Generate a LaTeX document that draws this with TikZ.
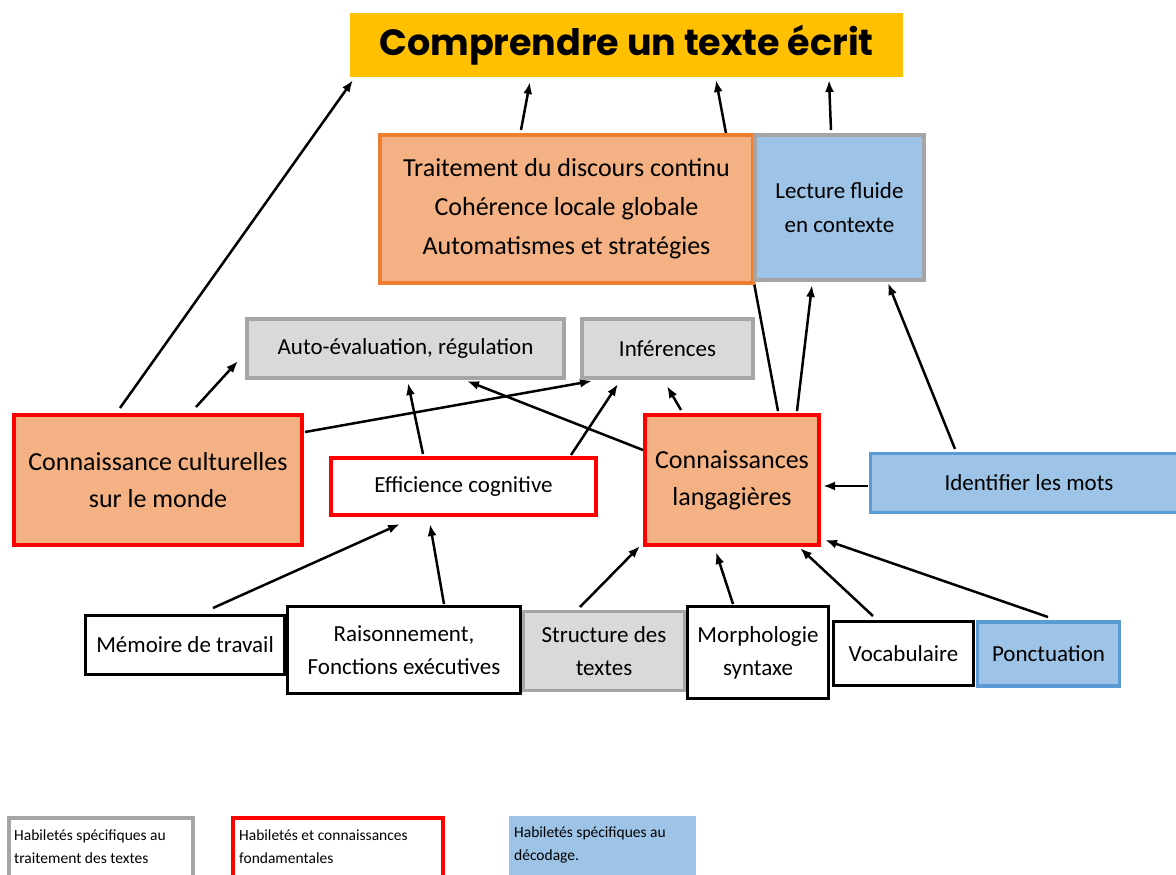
\documentclass[tikz,border=0pt]{standalone}
\usepackage{fontspec}
\setmainfont{Carlito}
\newfontfamily\titlefont{Poppins}
\usetikzlibrary{calc,arrows.meta,backgrounds}
\definecolor{ttlfill}{HTML}{FFC000}
\definecolor{peach}{HTML}{F4B183}
\definecolor{orangeb}{HTML}{ED7D31}
\definecolor{bluefill}{HTML}{9DC3E6}
\definecolor{blueb}{HTML}{5B9BD5}
\definecolor{greyfill}{HTML}{D9D9D9}
\definecolor{greyb}{HTML}{A5A5A5}
\definecolor{redb}{HTML}{FF0000}
\newcommand\fsBig{\fontsize{26}{37}\selectfont}
\newcommand\fsMid{\fontsize{23}{33}\selectfont}
\newcommand\fsLeg{\fontsize{15.5}{23}\selectfont}
\tikzset{
  box/.style={rectangle, inner sep=0pt, align=center, line width=3.5pt, text=black},
  greybox/.style={box, draw=greyb, fill=greyfill, font=\fsMid},
  redbox/.style={box, draw=redb, line width=4pt},
  bluebox/.style={box, draw=blueb, fill=bluefill, font=\fsMid},
  blackbox/.style={box, draw=black, fill=white, font=\fsMid},
  legtext/.style={anchor=west, align=left, inner sep=0pt, font=\fsLeg},
  arr/.style={-{Latex[length=12pt,width=9pt]}, line width=2.5pt}
}
\begin{document}
\begin{tikzpicture}[x=1pt,y=-1pt]
\useasboundingbox (0,0) rectangle (1176,875);
\clip (0,0) rectangle (1176,875);

% title
\node[box, fill=ttlfill, minimum width=553pt, minimum height=64pt, font=\titlefont\bfseries\fontsize{36.5}{40}\selectfont] (title) at (626.5,45) {Comprendre un texte écrit};

% second level
\node[box, draw=orangeb, fill=peach, minimum width=373pt, minimum height=148pt, font=\fontsize{26}{39}\selectfont] (trait) at (566.5,209) {Traitement du discours continu\\Cohérence locale globale\\Automatismes et stratégies};
\node[box, draw=greyb, fill=bluefill, minimum width=169pt, minimum height=145pt, font=\fontsize{23}{34}\selectfont] (lect) at (839.5,207.5) {Lecture fluide\\en contexte};

% third level
\node[greybox, minimum width=317pt, minimum height=59pt] (auto) at (405.5,348.5) {Auto-évaluation, régulation};
\node[greybox, minimum width=171pt, minimum height=59pt] (inf) at (667.5,348.5) {Inférences};

% middle
\node[redbox, fill=peach, minimum width=288pt, minimum height=130pt, font=\fsBig] (cc) at (158,480) {Connaissance culturelles\\sur le monde};
\node[redbox, fill=white, minimum width=265pt, minimum height=57pt, font=\fsMid] (eff) at (463.5,486.5) {Efficience cognitive};
\node[redbox, fill=peach, minimum width=174pt, minimum height=130pt, font=\fsBig] (cl) at (732,480) {Connaissances\\langagières};
\node[bluebox, minimum width=317pt, minimum height=59pt] (idm) at (1029,483) {Identifier les mots};

% bottom row
\node[blackbox, minimum width=199pt, minimum height=59pt] (mem) at (185,645) {Mémoire de travail};
\node[blackbox, minimum width=233pt, minimum height=87pt] (rais) at (404,650) {Raisonnement,\\Fonctions exécutives};
\node[greybox, minimum width=161pt, minimum height=79pt] (str) at (604,651) {Structure des\\textes};
\node[blackbox, minimum width=141pt, minimum height=92pt] (morph) at (758,652.5) {Morphologie\\syntaxe};
\node[blackbox, minimum width=140pt, minimum height=64pt] (voc) at (903.5,653.5) {Vocabulaire};
\node[bluebox, minimum width=142pt, minimum height=64pt] (ponc) at (1048.5,654) {Ponctuation};

% legend
\node[box, draw=greyb, fill=white, minimum width=184pt, minimum height=62pt] (leg1) at (101,849) {};
\node[legtext] (leg1t) at (14,846.5) {Habiletés spécifiques au\\traitement des textes};
\node[box, draw=redb, line width=4pt, fill=white, minimum width=210pt, minimum height=62pt] (leg2) at (338,849) {};
\node[legtext] (leg2t) at (239,846.5) {Habiletés et connaissances\\fondamentales};
\node[box, fill=bluefill, minimum width=187pt, minimum height=60pt] (leg3) at (602.5,846) {};
\node[legtext] (leg3t) at (514,845) {Habiletés spécifiques au\\décodage.};

% connectors
\begin{scope}[on background layer]
\draw[arr] ($(cc)+(-38,-72)$) -- ($(title)+(-273.5,35)$);
\draw[arr] ($(cc)+(38,-73)$) -- ($(auto)+(-167.5,12.5)$);
\draw[arr] ($(cc)+(147,-48)$) -- ($(inf)+(-75.5,32.5)$);
\draw[arr] ($(eff)+(-40.5,-32.5)$) -- ($(auto)+(2.5,34.5)$);
\draw[arr] ($(eff)+(107.5,-31.5)$) -- ($(inf)+(-49.5,35.5)$);
\draw[arr] ($(cl)+(-89,-30)$) -- ($(auto)+(61.5,32.5)$);
\draw[arr] ($(cl)+(-51,-70)$) -- ($(inf)+(-0.5,37.5)$);
\draw[arr] ($(cl)+(46,-69)$) -- ($(title)+(89.5,35)$);
\draw[arr] ($(cl)+(65,-69)$) -- ($(lect)+(-27.5,77.5)$);
\draw[arr] ($(idm)+(-74,-34)$) -- ($(lect)+(48.5,75.5)$);
\draw[arr] ($(idm)+(-161,3)$) -- ($(cl)+(91,6)$);
\draw[arr] ($(trait)+(-45.5,-79)$) -- ($(title)+(-96.5,37)$);
\draw[arr] ($(lect)+(-8.5,-77.5)$) -- ($(title)+(202.5,35)$);
\draw[arr] ($(mem)+(28,-37)$) -- ($(eff)+(-63.5,37.5)$);
\draw[arr] ($(rais)+(40,-46)$) -- ($(eff)+(-33.5,37.5)$);
\draw[arr] ($(str)+(-24,-44)$) -- ($(cl)+(-92,66)$);
\draw[arr] ($(morph)+(-25,-48.5)$) -- ($(cl)+(-16,72)$);
\draw[arr] ($(voc)+(-30.5,-37.5)$) -- ($(cl)+(68,68)$);
\draw[arr] ($(ponc)+(-0.5,-37)$) -- ($(cl)+(93,60)$);
\end{scope}
\end{tikzpicture}
\end{document}
